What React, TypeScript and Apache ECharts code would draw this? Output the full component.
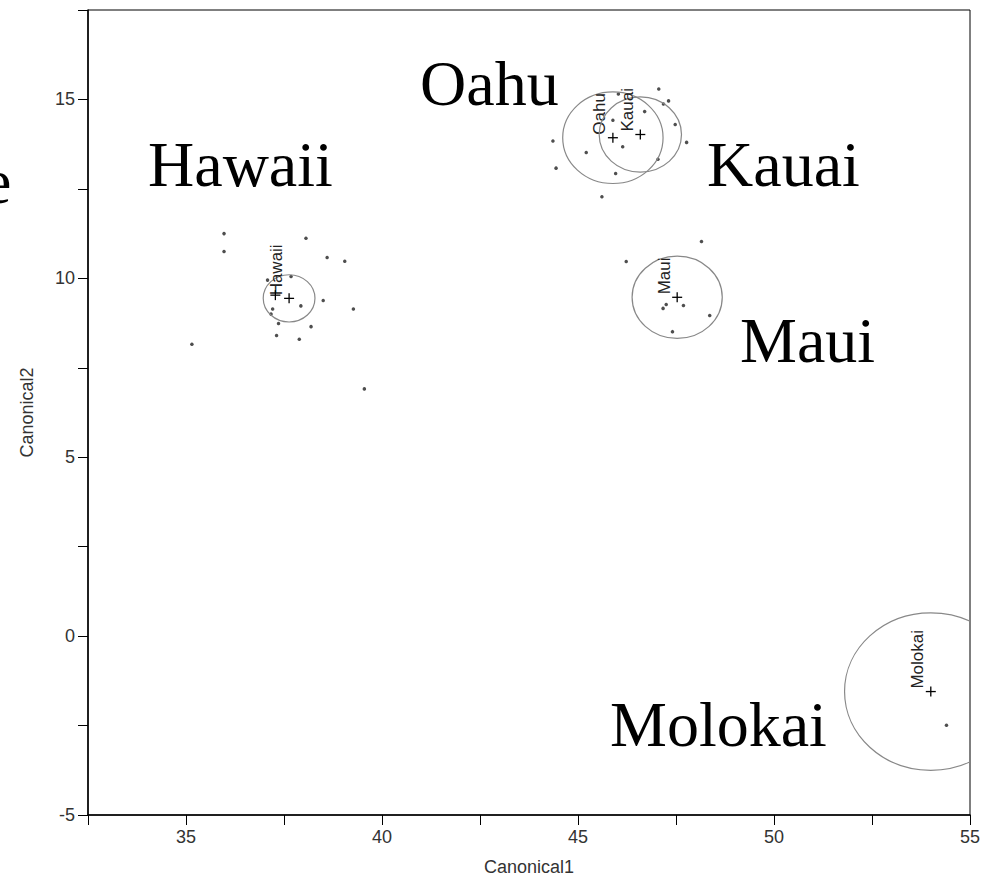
import React, { useEffect, useRef } from "react";
import * as echarts from "echarts";

// ---- data ----
const hawaiiPts: number[][] = [
  [35.97, 11.25], [35.97, 10.75], [38.06, 11.12], [38.6, 10.58], [39.05, 10.48],
  [37.08, 9.95], [37.68, 10.05], [38.5, 9.38], [39.27, 9.14], [37.21, 9.14],
  [37.93, 9.23], [37.17, 9.0], [37.36, 8.74], [38.19, 8.65], [37.31, 8.4],
  [37.89, 8.3], [35.15, 8.16], [39.55, 6.91],
];
const oahuPts: number[][] = [
  [44.36, 13.84], [45.21, 13.52], [44.44, 13.08], [45.96, 12.93], [45.61, 12.28],
  [45.89, 14.42], [46.14, 13.68], [46.03, 15.15],
];
const kauaiPts: number[][] = [
  [47.06, 15.29], [47.18, 14.87], [47.31, 14.96], [46.7, 14.66], [47.48, 14.3],
  [47.77, 13.8], [47.04, 13.33],
];
const mauiPts: number[][] = [
  [48.15, 11.03], [46.23, 10.47], [47.17, 9.16], [47.25, 9.27], [47.69, 9.24],
  [48.36, 8.96], [47.41, 8.51],
];
const molokaiPts: number[][] = [[54.4, -2.49]];

const meanNames = ["Hawaii", "Oahu", "Kauai", "Maui", "Molokai"];
const meanX = [37.63, 45.89, 46.59, 47.53, 54.0];
const meanY = [9.44, 13.93, 14.02, 9.47, -1.55];
const meanRadius = [0.66, 1.28, 1.05, 1.15, 2.2];
const extraCross: number[][] = [[37.28, 9.53]];

const xTicks = { min: 32.5, max: 55, step: 2.5 };
const yTicks = { min: -5, max: 17.5, step: 2.5 };

const bigLabels = ["Oahu", "Hawaii", "Kauai", "Maui", "Molokai", "e"];
const bigLabelPos = [
  [420, 105], [148, 186], [707, 186], [740, 362], [610, 746], [-17, 203],
];

export default function App() {
  const ref = useRef<HTMLDivElement>(null);
  useEffect(() => {
    document.body.style.margin = "0";
    const chart = echarts.init(ref.current!, undefined, { renderer: "svg" });
    const allPts = [...hawaiiPts, ...oahuPts, ...kauaiPts, ...mauiPts, ...molokaiPts];
    const labelFont = '17px "Liberation Sans"';
    const tickFmt = (v: number) => (Math.abs(v % 5) < 1e-9 ? String(v) : "");
    const axisCommon = {
      type: "value",
      axisLine: { show: true, onZero: false, lineStyle: { color: "#000", width: 1.5 } },
      axisTick: { show: true, length: 10, lineStyle: { color: "#000" } },
      axisLabel: { formatter: tickFmt, fontSize: 18, color: "#333", margin: 13, fontFamily: "Liberation Sans" },
      splitLine: { show: false },
      nameLocation: "middle",
      nameTextStyle: { fontSize: 18, color: "#333", fontFamily: "Liberation Sans" },
    };
    const option: any = {
      animation: false,
      backgroundColor: "#fff",
      grid: { left: 88, right: 26, top: 10, bottom: 64, show: true, borderColor: "#000", borderWidth: 1 },
      xAxis: {
        ...axisCommon,
        min: xTicks.min, max: xTicks.max, interval: xTicks.step,
        name: "Canonical1", nameGap: 43,
      },
      yAxis: {
        ...axisCommon,
        min: yTicks.min, max: yTicks.max, interval: yTicks.step,
        name: "Canonical2", nameGap: 52,
      },
      series: [
        {
          type: "scatter",
          data: allPts,
          symbolSize: 3.5,
          itemStyle: { color: "#222" },
          z: 3,
        },
        {
          type: "custom",
          clip: true,
          data: meanNames.map((n, i) => ({ name: n, value: [meanX[i], meanY[i], meanRadius[i]] })),
          renderItem: (params: any, api: any) => {
            const c = api.coord([api.value(0), api.value(1)]);
            const s = api.size([api.value(2), api.value(2)]);
            const name = meanNames[params.dataIndex];
            return {
              type: "group",
              children: [
                { type: "ellipse", shape: { cx: c[0], cy: c[1], rx: s[0], ry: s[1] }, style: { fill: "none", stroke: "#888", lineWidth: 1.2 } },
                { type: "line", shape: { x1: c[0] - 5, y1: c[1], x2: c[0] + 5, y2: c[1] }, style: { stroke: "#000", lineWidth: 1.3 } },
                { type: "line", shape: { x1: c[0], y1: c[1] - 5, x2: c[0], y2: c[1] + 5 }, style: { stroke: "#000", lineWidth: 1.3 } },
                {
                  type: "text", x: c[0] - 13, y: c[1] - 3, rotation: Math.PI / 2,
                  style: { text: name, font: labelFont, fill: "#222", align: "left", verticalAlign: "middle" },
                },
              ],
            };
          },
          z: 4,
        },
        {
          type: "custom",
          clip: true,
          data: extraCross,
          renderItem: (params: any, api: any) => {
            const c = api.coord([api.value(0), api.value(1)]);
            return {
              type: "group",
              children: [
                { type: "line", shape: { x1: c[0] - 5, y1: c[1], x2: c[0] + 5, y2: c[1] }, style: { stroke: "#000", lineWidth: 1.3 } },
                { type: "line", shape: { x1: c[0], y1: c[1] - 5, x2: c[0], y2: c[1] + 5 }, style: { stroke: "#000", lineWidth: 1.3 } },
              ],
            };
          },
          z: 4,
        },
      ],
      graphic: bigLabels.map((t, i) => ({
        type: "text",
        x: bigLabelPos[i][0],
        y: bigLabelPos[i][1] - 22,
        z: 10,
        style: { text: t, font: '64px "Liberation Serif"', fill: "#000", align: "left", verticalAlign: "middle" },
      })),
    };
    chart.setOption(option);
    return () => chart.dispose();
  }, []);
  return <div ref={ref} style={{ width: 996, height: 881 }} />;
}
